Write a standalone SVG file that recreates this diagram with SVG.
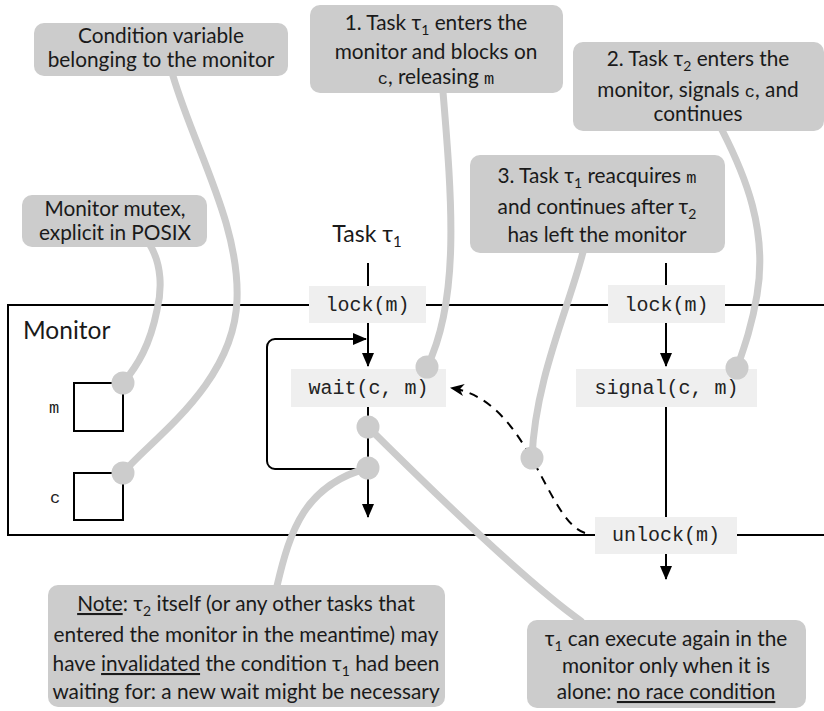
<svg xmlns="http://www.w3.org/2000/svg" width="824" height="711" viewBox="0 0 824 711">
  <style>
    .box{fill:#cccccc}
    .code{fill:#efefef}
    .t{font-family:Lato,"Liberation Sans",sans-serif;font-size:20.8px;fill:#1a1a1a;text-anchor:middle}
    .tl{font-family:Lato,"Liberation Sans",sans-serif;font-size:24.5px;fill:#1a1a1a}
    .mono{font-family:"Liberation Mono","Courier New",monospace;font-size:20px;fill:#222;text-anchor:middle}
    .m{font-family:"Liberation Mono","Courier New",monospace;font-size:17px}
    .sub{font-size:14px}
    .u{text-decoration:underline}
    .lead{fill:none;stroke:#cccccc;stroke-width:7;stroke-linecap:round}
    .dot{fill:#cccccc}
    .flow{fill:none;stroke:#000;stroke-width:2}
    .dash{fill:none;stroke:#000;stroke-width:2;stroke-dasharray:9 7}
  </style>
  <defs>
    <marker id="ah" markerUnits="userSpaceOnUse" markerWidth="14" markerHeight="12" viewBox="0 0 14 12" refX="13" refY="6" orient="auto">
      <path d="M0,0 L14,6 L0,12 z" fill="#000"/>
    </marker>
    <marker id="st" markerUnits="userSpaceOnUse" markerWidth="14" markerHeight="14" viewBox="0 -7 14 14" refX="13" refY="0" orient="auto">
      <path d="M0,-6 L14,0 L0,6 L4,0 z" fill="#000"/>
    </marker>
  </defs>

  <!-- monitor enclosure -->
  <g id="monitor">
    <rect x="8" y="305" width="840" height="230" fill="none" stroke="#000" stroke-width="2"/>
    <text class="tl" x="23" y="339">Monitor</text>
  </g>

  <!-- flow of the two tasks -->
  <g id="connectors">
    <line class="flow" x1="368" y1="263" x2="368" y2="366" marker-end="url(#ah)"/>
    <line class="flow" x1="368" y1="407" x2="368" y2="517" marker-end="url(#ah)"/>
    <path class="flow" d="M368,469 H275 a8,8 0 0 1 -8,-8 V347 a8,8 0 0 1 8,-8 H366" marker-end="url(#ah)"/>
    <line class="flow" x1="666" y1="263" x2="666" y2="366" marker-end="url(#ah)"/>
    <line class="flow" x1="666" y1="407" x2="666" y2="518"/>
    <line class="flow" x1="666" y1="554" x2="666" y2="579" marker-end="url(#ah)"/>
    <path class="dash" d="M585,533 C545,520 530,400 451,388" marker-end="url(#st)"/>
  </g>

  <g id="task1-label">
    <text class="t" x="367" y="242" style="font-size:23px">Task τ<tspan class="sub" dy="5" style="font-size:15px">1</tspan></text>
  </g>

  <!-- monitor variables -->
  <g id="var-m">
    <rect x="74" y="383" width="49" height="48" fill="#fff" stroke="#000" stroke-width="2"/>
    <text class="mono" x="54" y="413" style="font-size:17px">m</text>
  </g>
  <g id="var-c">
    <rect x="74" y="473" width="49" height="47" fill="#fff" stroke="#000" stroke-width="2"/>
    <text class="mono" x="55" y="503" style="font-size:17px">c</text>
  </g>

  <!-- operations -->
  <g id="lock1">
    <rect class="code" x="309" y="286" width="117" height="37"/>
    <text class="mono" x="367.5" y="311">lock(m)</text>
  </g>
  <g id="wait">
    <rect class="code" x="291" y="369" width="155" height="38"/>
    <text class="mono" x="368.5" y="394">wait(c, m)</text>
  </g>
  <g id="lock2">
    <rect class="code" x="608" y="285" width="117" height="38"/>
    <text class="mono" x="666.5" y="311">lock(m)</text>
  </g>
  <g id="signal">
    <rect class="code" x="576" y="369" width="181" height="38"/>
    <text class="mono" x="666.5" y="394">signal(c, m)</text>
  </g>
  <g id="unlock">
    <rect class="code" x="595" y="517" width="142" height="37"/>
    <text class="mono" x="666" y="541">unlock(m)</text>
  </g>

  <!-- annotation leaders -->
  <g id="leaders">
    <path class="lead" d="M173,76 C195,150 240,225 237,300 C234,385 150,440 123,473"/>
    <path class="lead" d="M150,245 C162,265 162,290 157,310 C150,345 138,365 123,383"/>
    <path class="lead" d="M443,92 C452,200 460,300 427,367"/>
    <path class="lead" d="M722,130 C745,175 768,230 757,295 C752,325 745,345 737,368"/>
    <path class="lead" d="M583,252 C568,310 535,380 532,458"/>
    <path class="lead" d="M277,586 C290,530 305,485 368,468"/>
    <path class="lead" d="M581,621 Q520,578 368,427"/>
    <circle class="dot" cx="123" cy="383" r="11.5"/>
    <circle class="dot" cx="123" cy="473" r="11.5"/>
    <circle class="dot" cx="427" cy="367" r="11.5"/>
    <circle class="dot" cx="737" cy="368" r="11.5"/>
    <circle class="dot" cx="532" cy="458" r="11.5"/>
    <circle class="dot" cx="368" cy="427" r="11.5"/>
    <circle class="dot" cx="368" cy="468" r="11.5"/>
  </g>

  <!-- callouts -->
  <g id="note-cond">
    <rect class="box" x="34" y="23" width="254" height="53" rx="10"/>
    <text class="t" x="161" y="43">Condition variable</text>
    <text class="t" x="161" y="67">belonging to the monitor</text>
  </g>
  <g id="note-mutex">
    <rect class="box" x="22" y="195" width="185" height="52" rx="10"/>
    <text class="t" x="115" y="216">Monitor mutex,</text>
    <text class="t" x="115" y="240">explicit in POSIX</text>
  </g>
  <g id="step1">
    <rect class="box" x="310" y="5" width="253" height="88" rx="10"/>
    <text class="t" x="436" y="30">1. Task τ<tspan class="sub" dy="5">1</tspan><tspan dy="-5"> enters the</tspan></text>
    <text class="t" x="436" y="59">monitor and blocks on</text>
    <text class="t" x="436" y="84"><tspan class="m">c</tspan>, releasing <tspan class="m">m</tspan></text>
  </g>
  <g id="step2">
    <rect class="box" x="573" y="42" width="251" height="89" rx="10"/>
    <text class="t" x="698" y="66">2. Task τ<tspan class="sub" dy="5">2</tspan><tspan dy="-5"> enters the</tspan></text>
    <text class="t" x="698" y="97">monitor, signals <tspan class="m">c</tspan>, and</text>
    <text class="t" x="698" y="121">continues</text>
  </g>
  <g id="step3">
    <rect class="box" x="470" y="155" width="255" height="98" rx="10"/>
    <text class="t" x="597" y="183">3. Task τ<tspan class="sub" dy="5">1</tspan><tspan dy="-5"> reacquires </tspan><tspan class="m">m</tspan></text>
    <text class="t" x="597" y="214">and continues after τ<tspan class="sub" dy="5">2</tspan></text>
    <text class="t" x="597" y="242">has left the monitor</text>
  </g>
  <g id="note-invalid">
    <rect class="box" x="48" y="585" width="397" height="122" rx="10"/>
    <text class="t" x="246" y="611"><tspan class="u">Note</tspan>: τ<tspan class="sub" dy="5">2</tspan><tspan dy="-5"> itself (or any other tasks that</tspan></text>
    <text class="t" x="246" y="642">entered the monitor in the meantime) may</text>
    <text class="t" x="246" y="671">have <tspan class="u">invalidated</tspan> the condition τ<tspan class="sub" dy="5">1</tspan><tspan dy="-5"> had been</tspan></text>
    <text class="t" x="246" y="699">waiting for: a new wait might be necessary</text>
  </g>
  <g id="note-race">
    <rect class="box" x="527" y="620" width="279" height="88" rx="10"/>
    <text class="t" x="666" y="646">τ<tspan class="sub" dy="5">1</tspan><tspan dy="-5"> can execute again in the</tspan></text>
    <text class="t" x="666" y="673">monitor only when it is</text>
    <text class="t" x="666" y="699">alone: <tspan class="u">no race condition</tspan></text>
  </g>
</svg>
